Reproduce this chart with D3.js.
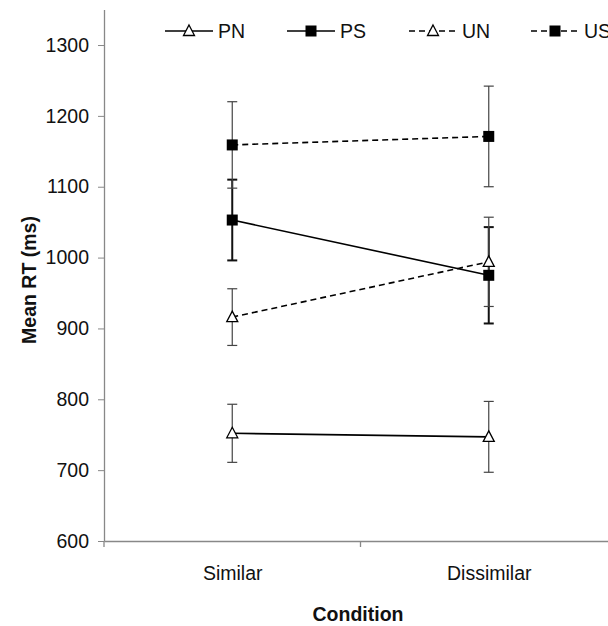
<!DOCTYPE html>
<html><head><meta charset="utf-8">
<script src="https://cdn.jsdelivr.net/npm/d3@7"></script>
<style>body{margin:0;background:#fff;} svg{display:block;font-family:"Liberation Sans",Arial,sans-serif;}</style>
</head><body>
<svg id="c" width="608" height="626"></svg>
<script>
const categories = ["Similar", "Dissimilar"];
const seriesNames = ["PN", "PS", "UN", "US"];
const PN = [752, 747];
const PS = [1053, 975];
const UN = [916, 994];
const US = [1159, 1171];
const PN_err = [41, 50];
const PS_err = [57, 68];
const UN_err = [40, 63];
const US_err = [61, 71];
const yTicks = [600, 700, 800, 900, 1000, 1100, 1200, 1300];

const series = [
  {name: "PN", values: PN, err: PN_err, marker: "tri", dash: null, errColor: "#444", errWidth: 1.2},
  {name: "PS", values: PS, err: PS_err, marker: "sq", dash: null, errColor: "#111", errWidth: 2},
  {name: "UN", values: UN, err: UN_err, marker: "tri", dash: "6,4", errColor: "#444", errWidth: 1.2},
  {name: "US", values: US, err: US_err, marker: "sq", dash: "6,4", errColor: "#444", errWidth: 1.2}
];

const FS = 19.5;
const svg = d3.select("#c");
const x0 = 104, x1 = 617;
const x = d3.scalePoint().domain(categories).range([x0, x1]).padding(0.5);
const y = d3.scaleLinear().domain([600, 1350]).range([541, 9.6]);

// y axis
const yAxis = svg.append("g").attr("transform", `translate(${x0},0)`)
  .call(d3.axisLeft(y).tickValues(yTicks).tickFormat(d3.format("d")).tickSize(6).tickSizeOuter(0).tickPadding(9));
yAxis.select(".domain").attr("stroke", "#888").attr("stroke-width", 1.3);
yAxis.selectAll(".tick line").attr("stroke", "#888");
yAxis.selectAll(".tick text").attr("font-size", FS).attr("fill", "#111")
  .attr("font-family", "Liberation Sans, Arial, sans-serif");
svg.append("line").attr("x1", x0).attr("x2", x0).attr("y1", y(600)).attr("y2", y(600) + 6)
  .attr("stroke", "#888").attr("stroke-width", 1.3);

// x axis
const xAxis = svg.append("g").attr("transform", `translate(0,${y(600)})`)
  .call(d3.axisBottom(x).tickSize(0).tickPadding(25));
xAxis.select(".domain").attr("stroke", "#888").attr("stroke-width", 1.3);
xAxis.selectAll(".tick text").attr("font-size", FS).attr("fill", "#111")
  .attr("font-family", "Liberation Sans, Arial, sans-serif");
const step = x.step();
svg.append("line").attr("x1", x0 + step).attr("x2", x0 + step)
  .attr("y1", y(600)).attr("y2", y(600) + 6).attr("stroke", "#888").attr("stroke-width", 1.3);

// axis titles
svg.append("text").attr("x", 358).attr("y", 621).attr("text-anchor", "middle")
  .attr("font-size", FS).attr("font-weight", "bold").attr("fill", "#111").text("Condition");
svg.append("text").attr("transform", "translate(36,280) rotate(-90)").attr("text-anchor", "middle")
  .attr("font-size", FS).attr("font-weight", "bold").attr("fill", "#111").text("Mean RT (ms)");

function drawMarker(g, type, cx, cy) {
  if (type === "tri") {
    g.append("path").attr("d", `M${cx},${cy - 6}L${cx + 5.5},${cy + 4.5}L${cx - 5.5},${cy + 4.5}Z`)
      .attr("fill", "#fff").attr("stroke", "#000").attr("stroke-width", 1.3);
  } else {
    g.append("rect").attr("x", cx - 5.5).attr("y", cy - 5.5).attr("width", 11).attr("height", 11)
      .attr("fill", "#000");
  }
}

const plot = svg.append("g");
// error bars
series.forEach(s => {
  categories.forEach((c, i) => {
    const cx = x(c), lo = y(s.values[i] - s.err[i]), hi = y(s.values[i] + s.err[i]);
    plot.append("line").attr("x1", cx).attr("x2", cx).attr("y1", lo).attr("y2", hi)
      .attr("stroke", s.errColor).attr("stroke-width", s.errWidth);
    [lo, hi].forEach(yy => plot.append("line").attr("x1", cx - 5).attr("x2", cx + 5)
      .attr("y1", yy).attr("y2", yy).attr("stroke", s.errColor).attr("stroke-width", s.errWidth));
  });
});
// lines
const line = d3.line().x((d, i) => x(categories[i])).y(d => y(d));
series.forEach(s => {
  plot.append("path").attr("d", line(s.values)).attr("fill", "none").attr("stroke", "#000")
    .attr("stroke-width", 1.6).attr("stroke-dasharray", s.dash);
});
series.forEach(s => {
  categories.forEach((c, i) => drawMarker(plot, s.marker, x(c), y(s.values[i])));
});

// legend
const legend = svg.append("g");
const legX = d3.scalePoint().domain(seriesNames).range([189, 555]);
series.forEach(s => {
  const cx = legX(s.name), cy = 31;
  legend.append("line").attr("x1", cx - 24).attr("x2", cx + 24).attr("y1", cy).attr("y2", cy)
    .attr("stroke", "#000").attr("stroke-width", 1.6).attr("stroke-dasharray", s.dash);
  drawMarker(legend, s.marker, cx, cy);
  legend.append("text").attr("x", cx + 29).attr("y", cy + 7).attr("font-size", FS)
    .attr("fill", "#111").text(s.name);
});
</script>
</body></html>
